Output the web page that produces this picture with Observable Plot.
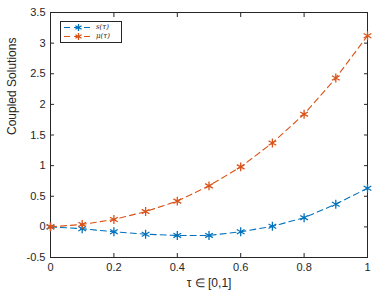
<!DOCTYPE html>
<html>
<head>
<meta charset="utf-8">
<script src="https://cdn.jsdelivr.net/npm/d3@7"></script>
<script src="https://cdn.jsdelivr.net/npm/@observablehq/plot@0.6"></script>
<style>
  body { margin: 0; background: #fff; }
  #wrap { position: relative; width: 384px; height: 296px; font-family: "Liberation Sans", Arial, sans-serif; }
  #legend { position: absolute; left: 60px; top: 21px; width: 56px; background: #fff; border: 1px solid #262626; padding: 1px 2px 1px 2px; font-size: 7px; line-height: 9px; }
  #legend .row { display: flex; align-items: center; height: 9px; }
  #legend svg { display: block; margin-right: 2px; }
  #legend i { font-family: "DejaVu Serif", serif; font-size: 7px; color: #262626; }
</style>
</head>
<body>
<div id="wrap"></div>
<script>
const tau = [0, 0.1, 0.2, 0.3, 0.4, 0.5, 0.6, 0.7, 0.8, 0.9, 1.0];
const sVals = [0, -0.03, -0.08, -0.12, -0.14, -0.14, -0.08, 0.01, 0.15, 0.37, 0.63];
const muVals = [0, 0.04, 0.12, 0.25, 0.42, 0.67, 0.98, 1.37, 1.84, 2.43, 3.12];
const seriesNames = ["s(τ)", "μ(τ)"];
const seriesColors = ["#0072BD", "#D95319"];
const xTicks = [0, 0.2, 0.4, 0.6, 0.8, 1];
const yTicks = [-0.5, 0, 0.5, 1, 1.5, 2, 2.5, 3, 3.5];

const data = [];
tau.forEach((t, i) => {
  data.push({t, v: sVals[i], s: seriesNames[0]});
  data.push({t, v: muVals[i], s: seriesNames[1]});
});

const color = {domain: seriesNames, range: seriesColors};
const ink = "#262626";

const chart = Plot.plot({
  width: 384,
  height: 296,
  marginLeft: 50,
  marginRight: 17,
  marginTop: 12,
  marginBottom: 39,
  style: {fontFamily: "Liberation Sans, Arial, sans-serif", fontSize: "11px", color: ink, background: "#fff"},
  x: {domain: [0, 1]},
  y: {domain: [-0.5, 3.5]},
  color,
  marks: [
    Plot.frame({stroke: ink, strokeWidth: 1}),
    Plot.axisX({ticks: xTicks, tickSize: -4, tickPadding: 10, tickFormat: d => String(d), label: null, stroke: ink}),
    Plot.axisX({anchor: "top", ticks: xTicks, tickSize: -4, tickFormat: () => "", label: null, stroke: ink}),
    Plot.axisY({ticks: yTicks, tickSize: -4, tickPadding: 9, tickFormat: d => String(d), label: null, stroke: ink}),
    Plot.axisY({anchor: "right", ticks: yTicks, tickSize: -4, tickFormat: () => "", label: null, stroke: ink}),
    Plot.text(["Coupled Solutions"], {frameAnchor: "left", dx: -38, rotate: -90, fontSize: 12, fill: ink}),
    Plot.text(["τ ∈ [0,1]"], {frameAnchor: "bottom", dy: 29, fontSize: 12, fill: ink}),
    Plot.line(data, {x: "t", y: "v", z: "s", stroke: "s", strokeWidth: 1.1, strokeDasharray: "6,4"}),
    Plot.dot(data, {x: "t", y: "v", stroke: "s", symbol: "asterisk", r: 4.2, strokeWidth: 1.3})
  ]
});

const wrap = document.getElementById("wrap");
wrap.appendChild(chart);

const legend = document.createElement("div");
legend.id = "legend";
seriesNames.forEach((name, i) => {
  const row = document.createElement("div");
  row.className = "row";
  const c = seriesColors[i];
  row.innerHTML = `<svg width="31" height="9"><line x1="1" y1="4.5" x2="30" y2="4.5" stroke="${c}" stroke-width="1.1" stroke-dasharray="6,4"/><path transform="translate(15.5,4.5)" d="M0,-3.6V3.6M-3.1,-1.8L3.1,1.8M-3.1,1.8L3.1,-1.8" stroke="${c}" stroke-width="1.3" fill="none"/></svg><i>${name}</i>`;
  legend.appendChild(row);
});
wrap.appendChild(legend);
</script>
</body>
</html>
